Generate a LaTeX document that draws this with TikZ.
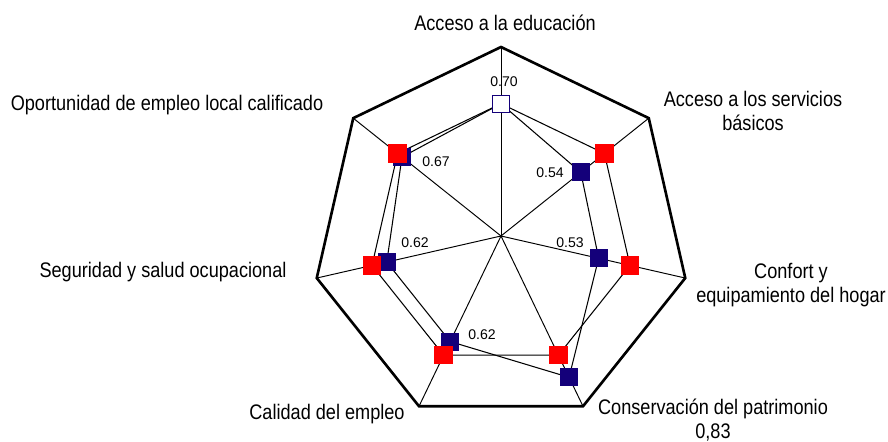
\documentclass[tikz,border=0pt]{standalone}
\usepackage{fontspec}
\setmainfont[FakeStretch=0.86]{Liberation Sans}
\newfontfamily\numfont{Liberation Sans}
\usetikzlibrary{positioning}
\definecolor{marknavy}{RGB}{20,0,122}
\definecolor{markred}{RGB}{255,0,0}

\begin{document}
\begin{tikzpicture}[
  x=0.02cm, y=0.02cm,
  axislabel/.style = {font=\fontsize{12}{13.6}\selectfont, align=center, inner sep=0pt},
  value/.style = {font=\numfont\fontsize{8}{9}\selectfont, inner sep=0pt},
  spoke/.style = {line width=0.55pt},
  rim/.style = {line width=1.5pt, line join=miter},
  series/.style = {line width=0.6pt},
  bluebox/.style = {fill=marknavy, minimum size=0.36cm, inner sep=0pt},
  redbox/.style = {fill=markred, minimum size=0.37cm, inner sep=0pt},
  whitebox/.style = {fill=white, draw=marknavy, line width=0.6pt, minimum size=0.34cm, inner sep=0pt}
]
  \useasboundingbox (0,0) rectangle (888,442);

  \begin{scope}[shift={(501,206)}]
    \coordinate (c) at (0,0);
    % axes and outer frame
    \foreach \i in {1,...,7} {
      \coordinate (v\i) at ({90-(\i-1)*360/7}:189);
    }
    \foreach \i in {1,...,7} {
      \draw[spoke] (c) -- (v\i);
    }
    \draw[rim] (v1) -- (v2) -- (v3) -- (v4) -- (v5) -- (v6) -- (v7) -- cycle;

    % data points
    \foreach \i/\r in {1/0.70, 2/0.54, 3/0.53, 4/0.83, 5/0.62, 6/0.62, 7/0.67} {
      \coordinate (b\i) at ({90-(\i-1)*360/7}:\r*189);
      \coordinate (r\i) at ({90-(\i-1)*360/7}:0.70*189);
    }
    \draw[series] (b1) -- (b2) -- (b3) -- (b4) -- (b5) -- (b6) -- (b7) -- cycle;
    \draw[series] (r1) -- (r2) -- (r3) -- (r4) -- (r5) -- (r6) -- (r7) -- cycle;

    \foreach \i in {2,...,7} {
      \node[bluebox] (bm\i) at (b\i) {};
    }
    \foreach \i in {2,...,7} {
      \node[redbox] (rm\i) at (r\i) {};
    }
    \node[whitebox] (top) at (b1) {};
  \end{scope}

  % values
  \node[value] (val1) at (504,360) {0.70};
  \node[value] (val7) at (436,280) {0.67};
  \node[value] (val2) at (550,269) {0.54};
  \node[value] (val3) at (570,199) {0.53};
  \node[value] (val6) at (415,199) {0.62};
  \node[value] (val5) at (482,107) {0.62};

  % axis names
  \node[axislabel] (educ) at (505,419) {Acceso a la educación};
  \node[axislabel] (serv) at (753,331) {Acceso a los servicios\\básicos};
  \node[axislabel] (conf) at (791,157) {Confort y\\equipamiento del hogar};
  \node[axislabel] (patr) at (713,22) {Conservación del patrimonio\\0,83};
  \node[axislabel] (cali) at (327,28) {Calidad del empleo};
  \node[axislabel] (segu) at (163,170) {Seguridad y salud ocupacional};
  \node[axislabel] (opor) at (167,337) {Oportunidad de empleo local calificado};
\end{tikzpicture}
\end{document}
